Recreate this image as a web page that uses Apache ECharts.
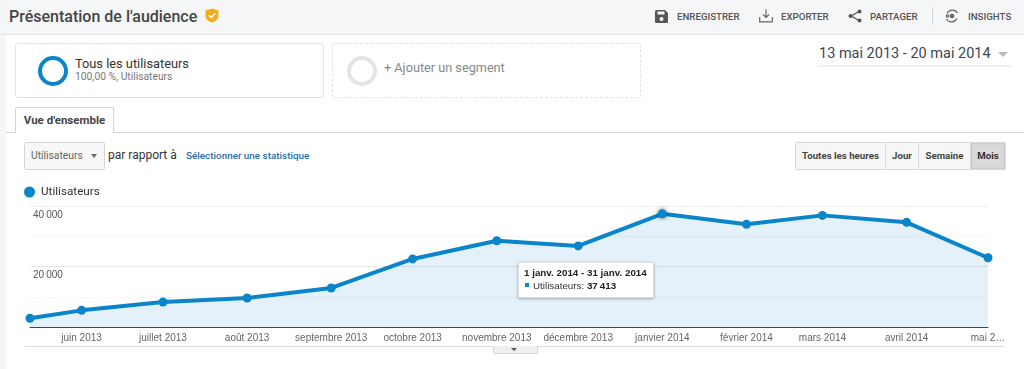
<!DOCTYPE html>
<html>
<head>
<meta charset="utf-8">
<script src="https://cdn.jsdelivr.net/npm/echarts@6/dist/echarts.min.js"></script>
<style>
  html, body { margin: 0; padding: 0; background: #fff; }
  #page { position: relative; width: 1024px; height: 369px; overflow: hidden; font-family: Roboto, sans-serif; background: #fff; }
  #page div, #page svg { position: absolute; white-space: nowrap; }
  #chart { left: 0; top: 0; width: 1024px; height: 369px; }
  .act { top: 10px; font-size: 9.7px; font-weight: 500; color: #555; line-height: 13px; }
  .seg { box-sizing: border-box; top: 43px; height: 55px; border-radius: 3px; }
  .btn { box-sizing: border-box; top: 142px; height: 28px; line-height: 26px; text-align: center; font-size: 9.7px; font-weight: 700; color: #444; background: #f6f6f6; border: 1px solid #d8d8d8; border-left: 0; }
</style>
</head>
<body>
<div id="page">
  <div style="left:0;top:0;width:1024px;height:34px;background:#f5f6f8;border-bottom:1px solid #e2e3e5"></div>
  <div style="left:0;top:35px;width:6px;height:334px;background:#f5f6f8"></div>

  <div style="left:9px;top:6px;font-size:16px;font-weight:500;color:#444;line-height:22px">Présentation de l'audience</div>
  <svg style="left:205px;top:8px" width="14" height="15" viewBox="0 0 14 15"><path d="M7 0.5 13.5 2.5V8C13.5 11 10.500 13.500 7 14.500 3.500 13.500 0.500 11 0.500 8V2.500Z" fill="#f4ab1c"/><path d="M3.800 7.300 6.200 9.700 10.300 5.200" fill="none" stroke="#fff" stroke-width="1.600"/></svg>

  <svg style="left:655px;top:10px" width="13" height="13" viewBox="0 0 13 13"><path d="M0 1.500Q0 0 1.500 0H10L13 3V11.500Q13 13 11.500 13H1.500Q0 13 0 11.500Z" fill="#555"/><rect x="2.500" y="1.500" width="7" height="3" fill="#f5f6f8"/><circle cx="6.500" cy="9" r="2" fill="#f5f6f8"/></svg>
  <div class="act" style="left:677px">ENREGISTRER</div>
  <svg style="left:759px;top:9px" width="14" height="14" viewBox="0 0 14 14" fill="none" stroke="#666" stroke-width="1.200"><path d="M7 0.500V8M4 5.500 7 8.500 10 5.500M0.700 8V12.800H13.300V8"/></svg>
  <div class="act" style="left:781px">EXPORTER</div>
  <svg style="left:848px;top:9px" width="14" height="14" viewBox="0 0 14 14"><path d="M11 2.500 3 7 11 11.500" fill="none" stroke="#555" stroke-width="1.200"/><circle cx="11.500" cy="2.500" r="2" fill="#555"/><circle cx="2.500" cy="7" r="2" fill="#555"/><circle cx="11.500" cy="11.500" r="2" fill="#555"/></svg>
  <div class="act" style="left:870px">PARTAGER</div>
  <div style="left:932px;top:7px;width:1px;height:18px;background:#d4d4d4"></div>
  <svg style="left:945px;top:9px" width="14" height="14" viewBox="0 0 14 14" fill="none" stroke="#666" stroke-width="1.200"><path d="M2 4.500A6 6 0 0 1 12.500 4M12 9.500A6 6 0 0 1 1.500 10"/><circle cx="7" cy="7" r="2.300" fill="#666" stroke="none"/><circle cx="2.500" cy="7" r="1.200"/></svg>
  <div class="act" style="left:968px">INSIGHTS</div>

  <div class="seg" style="left:15px;width:309px;border:1px solid #e3e3e3"></div>
  <div class="seg" style="left:332px;width:309px;border:1px dashed #e4e4e4"></div>
  <div style="box-sizing:border-box;left:38px;top:56px;width:30px;height:30px;border:4px solid #0a85c9;border-radius:50%"></div>
  <div style="left:75px;top:55px;font-size:12.800px;color:#333;line-height:17px">Tous les utilisateurs</div>
  <div style="left:75px;top:70px;font-size:10.300px;color:#777;line-height:14px">100,00 %, Utilisateurs</div>
  <div style="box-sizing:border-box;left:347px;top:56px;width:30px;height:30px;border:4px solid #e4e4e4;border-radius:50%"></div>
  <div style="left:384px;top:59px;font-size:12.700px;color:#888;line-height:18px">+ Ajouter un segment</div>

  <div style="left:819px;top:44px;font-size:14.500px;color:#3c4650;line-height:20px">13 mai 2013 - 20 mai 2014</div>
  <div style="left:998px;top:52px;width:0;height:0;border-left:5.500px solid transparent;border-right:5.500px solid transparent;border-top:5px solid #bbb"></div>
  <div style="left:817px;top:65px;width:194px;height:2px;background:#eef0f2"></div>

  <div style="left:6px;top:132px;width:1018px;height:1px;background:#d5d5d5"></div>
  <div style="box-sizing:border-box;left:15px;top:107px;width:99px;height:26px;background:#fff;border:1px solid #d5d5d5;border-bottom:0;border-radius:2px 2px 0 0;text-align:center;font-size:11.500px;font-weight:700;color:#444;line-height:25px">Vue d'ensemble</div>

  <div style="box-sizing:border-box;left:24px;top:142px;width:81px;height:28px;border:1px solid #d5d5d5;border-radius:2px;background:#f7f7f7"></div>
  <div style="left:31px;top:149px;font-size:10.300px;color:#666;line-height:14px">Utilisateurs</div>
  <div style="left:91px;top:154px;width:0;height:0;border-left:3.500px solid transparent;border-right:3.500px solid transparent;border-top:4px solid #666"></div>
  <div style="left:108px;top:147px;font-size:12px;color:#333;line-height:16px">par rapport à</div>
  <div style="left:186px;top:149px;font-size:9.900px;font-weight:500;color:#2a6ea8;line-height:14px">Sélectionner une statistique</div>

  <div class="btn" style="left:795px;width:91px;border-left:1px solid #d8d8d8;border-radius:2px 0 0 2px">Toutes les heures</div>
  <div class="btn" style="left:886px;width:33px">Jour</div>
  <div class="btn" style="left:919px;width:52px">Semaine</div>
  <div class="btn" style="left:971px;width:35px;background:#d9d9d9;color:#333;border-radius:0 2px 2px 0;box-shadow:inset 0 0 3px rgba(0,0,0,.15)">Mois</div>

  <div style="left:25px;top:346px;width:468px;height:1px;background:#dcdcdc"></div>
  <div style="left:537px;top:346px;width:468px;height:1px;background:#dcdcdc"></div>
  <div style="box-sizing:border-box;left:493px;top:346px;width:45px;height:8px;background:#efefef;border:1px solid #d5d5d5;border-top:0;border-radius:0 0 2px 2px"></div>
  <div style="left:511px;top:348px;width:0;height:0;border-left:3.500px solid transparent;border-right:3.500px solid transparent;border-top:3px solid #555"></div>

  <div id="chart"></div>
</div>

<script>
var seriesName = 'Utilisateurs';
var dates = ['2013-05-13', '2013-06-01', '2013-07-01', '2013-08-01', '2013-09-01', '2013-10-01', '2013-11-01', '2013-12-01', '2014-01-01', '2014-02-01', '2014-03-01', '2014-04-01', '2014-05-01'];
var users = [2900, 5500, 8250, 9600, 12900, 22500, 28500, 26800, 37413, 33950, 36900, 34600, 22900];
var monthLabels = ['juin 2013', 'juillet 2013', 'août 2013', 'septembre 2013', 'octobre 2013', 'novembre 2013', 'décembre 2013', 'janvier 2014', 'février 2014', 'mars 2014', 'avril 2014', 'mai 2…'];
var yTicks = [0, 10000, 20000, 30000, 40000];
var yTickLabels = ['', '', '20\u2009000', '', '40\u2009000'];
var hoverIndex = 8;
var hoverTitle = '1 janv. 2014 - 31 janv. 2014';

// time axis chokes on customValues, so the x axis is a plain value axis of timestamps
var times = dates.map(function (d) { return Date.UTC(+d.slice(0, 4), +d.slice(5, 7) - 1, +d.slice(8, 10)); });
var labelTimes = times.slice(1);

var chart = echarts.init(document.getElementById('chart'));

var option = {
  animation: false,
  textStyle: { fontFamily: 'Liberation Sans' },
  grid: { left: 30, right: 36, top: 206, bottom: 42 },
  legend: {
    left: 19, top: 181, icon: 'circle', itemWidth: 11, itemHeight: 11, itemGap: 0,
    selectedMode: false,
    textStyle: { fontFamily: 'Roboto', fontSize: 11.7, color: '#333', padding: [0, 0, 0, 1] }
  },
  tooltip: {
    show: true,
    trigger: 'item',
    triggerOn: 'none',
    alwaysShowContent: true,
    transitionDuration: 0,
    position: [518, 262],
    padding: [4, 5, 6, 5],
    backgroundColor: '#fff',
    borderColor: '#ddd',
    borderWidth: 1,
    borderRadius: 1,
    extraCssText: 'box-shadow:0 1px 3px rgba(0,0,0,.3);width:124px;height:24px;line-height:12.5px;',
    textStyle: { fontFamily: 'Liberation Sans', fontSize: 9.8, color: '#333' },
    formatter: function (p) {
      var v = String(p.value[1]).replace(/(\d)(\d{3})$/, '$1\u2009$2');
      return '<b style="color:#222">' + hoverTitle + '</b><br/>' +
        '<span style="display:inline-block;width:4px;height:4px;background:#0a85c9;margin:0 4px 2px 1px"></span>' +
        p.seriesName + ': <b style="color:#222">' + v + '</b>';
    }
  },
  xAxis: {
    type: 'value',
    min: times[0],
    max: times[times.length - 1],
    axisLine: { onZero: false, lineStyle: { color: '#444', width: 1 } },
    axisTick: { show: false },
    splitLine: { show: false },
    axisLabel: {
      customValues: labelTimes,
      hideOverlap: false,
      fontSize: 10,
      color: '#666',
      margin: 6,
      formatter: function (val) {
        return monthLabels[labelTimes.indexOf(+val)] || '';
      }
    }
  },
  yAxis: {
    type: 'value',
    min: yTicks[0],
    max: yTicks[yTicks.length - 1],
    interval: 10000,
    axisLine: { show: false },
    axisTick: { show: false },
    splitLine: { lineStyle: { color: ['#e4e4e4', '#f5f5f5', '#e8e8e8', '#f5f5f5', '#eeeeee'], width: 1 } },
    axisLabel: {
      inside: true,
      margin: 3,
      verticalAlign: 'top',
      padding: [4, 0, 0, 0],
      fontSize: 10,
      color: '#555',
      formatter: function (val) { return yTickLabels[yTicks.indexOf(val)]; }
    }
  },
  series: [{
    name: seriesName,
    type: 'line',
    symbol: 'circle',
    symbolSize: 9,
    z: 1,
    lineStyle: { color: '#0a85c9', width: 4 },
    itemStyle: { color: '#0a85c9' },
    areaStyle: { color: 'rgba(30,130,210,0.12)', opacity: 1 },
    data: times.map(function (t, i) {
      var point = { value: [t, users[i]] };
      if (i === hoverIndex) {
        point.itemStyle = { color: '#0a85c9', shadowBlur: 4, shadowColor: 'rgba(0,0,0,.6)' };
      }
      return point;
    })
  }]
};
chart.setOption(option);
chart.dispatchAction({ type: 'showTip', seriesIndex: 0, dataIndex: hoverIndex });
</script>
</body>
</html>
